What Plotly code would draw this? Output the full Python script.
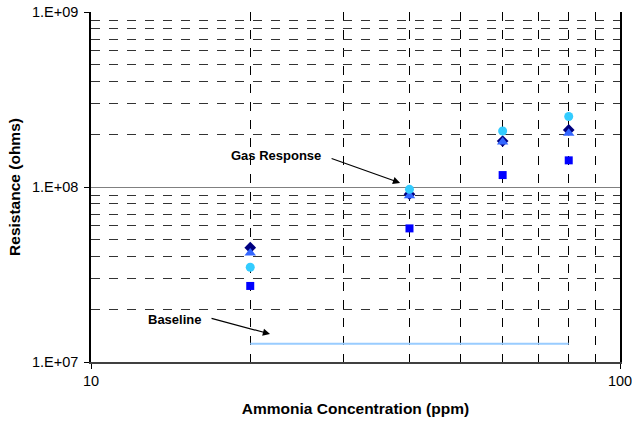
import plotly.graph_objects as go
import math

concentration = [20, 40, 60, 80]
series_diamond = [4.50e7, 9.1e7, 1.83e8, 2.12e8]
series_triangle = [4.2e7, 8.9e7, 1.81e8, 2.03e8]
series_circle = [3.48e7, 9.7e7, 2.09e8, 2.53e8]
series_square = [2.72e7, 5.8e7, 1.17e8, 1.42e8]
baseline_x = [20, 80]
baseline_y = [1.27e7, 1.27e7]

y_tickvals = [1e7, 1e8, 1e9]
y_ticktext = ["1.E+07", "1.E+08", "1.E+09"]
x_tickvals = [10, 100]
x_ticktext = ["10", "100"]

FONT = "Liberation Sans, Arial, sans-serif"

fig = go.Figure()
fig.add_trace(go.Scatter(x=baseline_x, y=baseline_y, mode="lines",
                         line=dict(color="#99ccff", width=2), name="Baseline"))
fig.add_trace(go.Scatter(x=concentration, y=series_diamond, mode="markers",
                         marker=dict(symbol="diamond", size=9, color="#000080"), name="Sensor A"))
fig.add_trace(go.Scatter(x=concentration, y=series_triangle, mode="markers",
                         marker=dict(symbol="triangle-up", size=10, color="#3366ff"), name="Sensor B"))
fig.add_trace(go.Scatter(x=concentration, y=series_circle, mode="markers",
                         marker=dict(symbol="circle", size=9, color="#33ccff"), name="Sensor C"))
fig.add_trace(go.Scatter(x=concentration, y=series_square, mode="markers",
                         marker=dict(symbol="square", size=8, color="#0000ff"), name="Sensor D"))

fig.update_layout(
    width=632, height=421,
    margin=dict(l=91, r=12, t=12, b=59),
    paper_bgcolor="white", plot_bgcolor="white",
    showlegend=False,
    font=dict(family=FONT, color="black"),
    xaxis=dict(
        type="log", range=[1, 2], automargin=False, ticklabeloverflow="allow",
        tickvals=x_tickvals, ticktext=x_ticktext,
        tickfont=dict(size=14.5),
        ticks="outside", ticklen=5, tickcolor="black",
        showline=True, linecolor="#404040", linewidth=1.5,
        showgrid=True, gridcolor="black", gridwidth=1,
        minor=dict(dtick="D1", showgrid=True, gridcolor="black", griddash="dash", gridwidth=1, ticks=""),
        title=dict(text="<b>Ammonia Concentration (ppm)</b>", font=dict(size=15.5), standoff=15),
        zeroline=False,
    ),
    yaxis=dict(
        type="log", range=[7, 9], automargin=False, ticklabeloverflow="allow",
        tickvals=y_tickvals, ticktext=y_ticktext,
        tickfont=dict(size=14.5),
        ticks="outside", ticklen=5, tickcolor="black", ticklabelstandoff=3,
        showline=True, linecolor="black", linewidth=1.5, mirror=True,
        showgrid=True, gridcolor="#808080", gridwidth=1,
        minor=dict(dtick="D1", showgrid=True, gridcolor="#333333", griddash="dash", gridwidth=1, ticks=""),
        title=dict(text="<b>Resistance (ohms)</b>", font=dict(size=15.5), standoff=8),
        zeroline=False,
    ),
    annotations=[
        dict(x=math.log10(22.4), y=math.log10(1.52e8), xref="x", yref="y",
             text="<b>Gas Response</b>", showarrow=False, font=dict(size=13)),
        dict(x=math.log10(38.4), y=math.log10(1.055e8), xref="x", yref="y",
             text="", showarrow=True, arrowhead=2, arrowsize=1.2, arrowwidth=1.2,
             arrowcolor="black", ax=-70, ay=-25),
        dict(x=math.log10(14.4), y=math.log10(1.74e7), xref="x", yref="y",
             text="<b>Baseline</b>", showarrow=False, font=dict(size=13)),
        dict(x=math.log10(21.8), y=math.log10(1.445e7), xref="x", yref="y",
             text="", showarrow=True, arrowhead=2, arrowsize=1.2, arrowwidth=1.2,
             arrowcolor="black", ax=-60, ay=-16),
    ],
)

fig.write_html("out.html", config={"displayModeBar": False},
               post_script="document.body.style.margin='0';document.body.style.overflow='hidden';")
